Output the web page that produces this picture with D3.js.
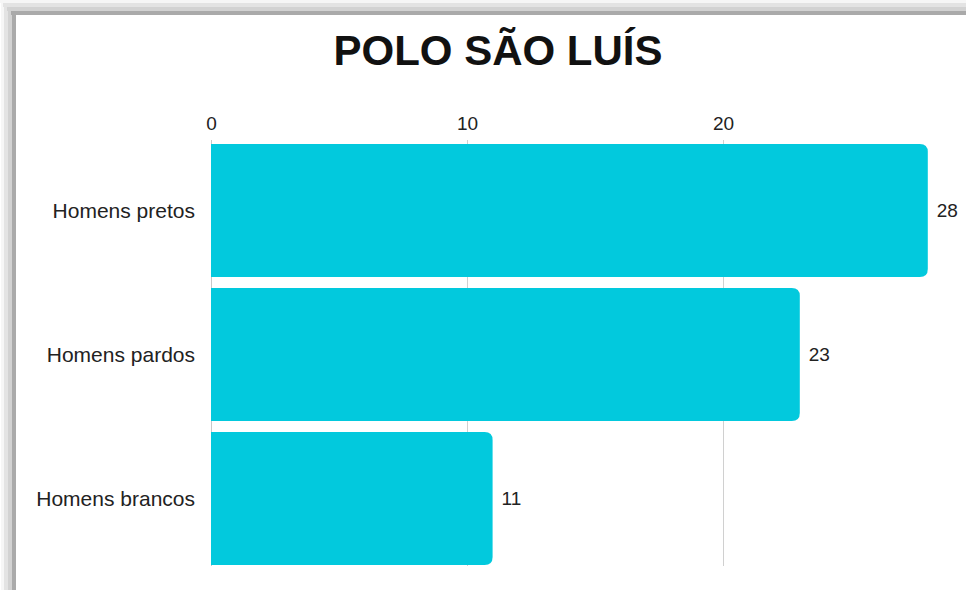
<!DOCTYPE html>
<html>
<head>
<meta charset="utf-8">
<script src="https://cdn.jsdelivr.net/npm/d3@7"></script>
<style>
  body { margin: 0; background: #fff; }
  svg { display: block; font-family: "Liberation Sans", Arial, sans-serif; }
</style>
</head>
<body>
<script>
const title = "POLO SÃO LUÍS";
const categories = ["Homens pretos", "Homens pardos", "Homens brancos"];
const values = [28, 23, 11];
const tickValues = [0, 10, 20];

const width = 966, height = 590;
const svg = d3.select("body").append("svg")
  .attr("width", width)
  .attr("height", height);

// frame / shadow along top and left
const bands = [
  { o: 0, s: 3, c: "#f6f6f6" },
  { o: 3, s: 4, c: "#e3e3e3" },
  { o: 7, s: 4, c: "#d2d2d2" },
  { o: 11, s: 4, c: "#aaaaaa" }
];
bands.forEach(b => {
  svg.append("rect").attr("x", b.o).attr("y", b.o).attr("width", width - b.o).attr("height", b.s).attr("fill", b.c);
  svg.append("rect").attr("x", b.o + 1).attr("y", b.o).attr("width", b.s).attr("height", height - b.o).attr("fill", b.c);
});

const x = d3.scaleLinear().domain([0, 20]).range([211, 723]);
const y = d3.scaleBand().domain(categories).range([144, 565]).paddingInner(11 / 144).paddingOuter(0);

svg.append("text")
  .attr("x", 498).attr("y", 65)
  .attr("text-anchor", "middle")
  .attr("font-size", 42).attr("font-weight", "bold")
  .attr("fill", "#111")
  .text(title);

// grid lines
svg.append("g").selectAll("line")
  .data(tickValues)
  .join("line")
  .attr("x1", d => x(d) + 0.5).attr("x2", d => x(d) + 0.5)
  .attr("y1", 140).attr("y2", 566)
  .attr("stroke", d => d === 0 ? "#c8c8c8" : "#d0d0d0")
  .attr("stroke-width", 1);

// top axis labels
const axis = svg.append("g")
  .attr("transform", "translate(0,136)")
  .call(d3.axisTop(x).tickValues(tickValues).tickSize(0).tickPadding(6));
axis.select(".domain").remove();
axis.selectAll("text")
  .attr("font-size", 19)
  .attr("font-family", "Liberation Sans, Arial, sans-serif")
  .attr("fill", "#222");

// bars with rounded right corners
const r = 8;
function barPath(d, i) {
  const x0 = x(0), x1 = x(d), y0 = y(categories[i]), h = y.bandwidth();
  return `M${x0},${y0}H${x1 - r}Q${x1},${y0} ${x1},${y0 + r}V${y0 + h - r}Q${x1},${y0 + h} ${x1 - r},${y0 + h}H${x0}Z`;
}
svg.append("g").selectAll("path")
  .data(values)
  .join("path")
  .attr("d", barPath)
  .attr("fill", "#02c9dd");

// category labels
svg.append("g").selectAll("text")
  .data(categories)
  .join("text")
  .attr("x", 195)
  .attr("y", d => y(d) + y.bandwidth() / 2)
  .attr("dy", "0.35em")
  .attr("text-anchor", "end")
  .attr("font-size", 21)
  .attr("fill", "#222")
  .text(d => d);

// value labels
svg.append("g").selectAll("text")
  .data(values)
  .join("text")
  .attr("x", d => x(d) + 9)
  .attr("y", (d, i) => y(categories[i]) + y.bandwidth() / 2)
  .attr("dy", "0.35em")
  .attr("font-size", 19)
  .attr("fill", "#222")
  .text(d => d);
</script>
</body>
</html>
